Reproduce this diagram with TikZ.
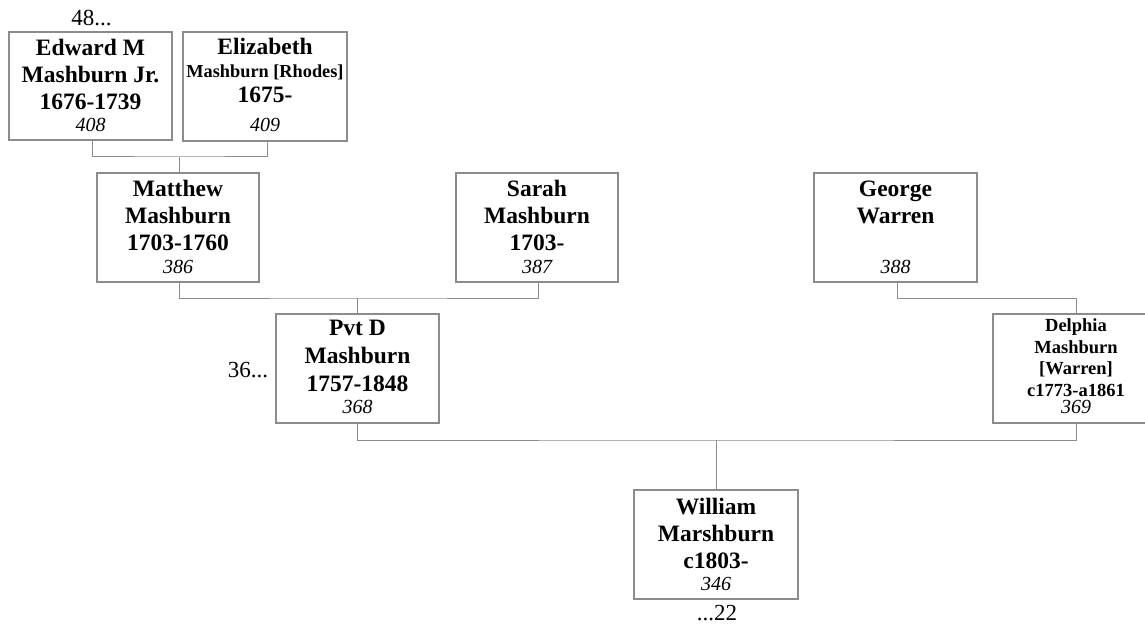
\documentclass[tikz,border=0pt]{standalone}
\usepackage{fontspec}
\setmainfont{Liberation Serif}
\definecolor{linegray}{RGB}{140,140,140}
\begin{document}
\begin{tikzpicture}[x=1pt,y=-1pt,
  person/.style={draw=linegray, line width=1.3pt, fill=white, inner sep=0pt, minimum width=163pt, minimum height=108pt},
  pname/.style={font=\bfseries\fontsize{23.5}{27}\selectfont, align=center, inner sep=0pt, anchor=north},
  sname/.style={font=\bfseries\fontsize{18.5}{21.5}\selectfont, align=center, inner sep=0pt, anchor=north},
  pnum/.style={font=\itshape\fontsize{20}{24}\selectfont, inner sep=0pt, anchor=base},
  more/.style={font=\fontsize{23}{27}\selectfont, inner sep=0pt},
  link/.style={draw=linegray, line width=1pt}
]
\useasboundingbox (0,0) rectangle (1145,628);

% connectors
\coordinate (j1) at (179,157);
\coordinate (j2) at (357.5,298);
\coordinate (j3) at (1076,298);
\coordinate (j4) at (716,440);

% boxes
\node[person] (edw) at (90.5,86) {};
\node[person, minimum width=164pt, minimum height=109pt] (eliz) at (265,86.5) {};
\node[person, minimum width=162pt, minimum height=109pt] (mat) at (178,227.5) {};
\node[person, minimum width=162pt, minimum height=109pt] (sar) at (537,227.5) {};
\node[person, minimum height=109pt] (geo) at (895.5,227.5) {};
\node[person, minimum height=109pt] (pvt) at (357.5,368.5) {};
\node[person, minimum width=166pt, minimum height=109pt] (del) at (1076,368.5) {};
\node[person, minimum width=164pt, minimum height=109pt] (wil) at (716,544.5) {};

\draw[link] ([xshift=1.5pt]edw.south) |- (j1) -| ([xshift=2pt]eliz.south);
\draw[link] (j1) -- ([xshift=1pt]mat.north);
\draw[link] ([xshift=1pt]mat.south) |- (j2) -| ([xshift=1pt]sar.south);
\draw[link] (j2) -- (pvt.north);
\draw[link] ([xshift=1.5pt]geo.south) |- (j3) -- (del.north);
\draw[link] (pvt.south) |- (j4) -| (del.south);
\draw[link] (j4) -- (wil.north);

% names
\node[pname] (tedw) at ([yshift=-5pt]edw.north) {\strut Edward M\\Mashburn Jr.\\1676-1739};
\node[pname] (teliz) at ([yshift=-4pt]eliz.north) {\strut Elizabeth\\[-4pt]{\fontsize{18.3}{22}\selectfont Mashburn [Rhodes]}\\[-2pt]1675-};
\node[pname] (tmat) at ([yshift=-5pt]mat.north) {\strut Matthew\\Mashburn\\1703-1760};
\node[pname] (tsar) at ([yshift=-5pt]sar.north) {\strut Sarah\\Mashburn\\1703-};
\node[pname] (tgeo) at ([yshift=-5pt]geo.north) {\strut George\\Warren};
\node[pname] (tpvt) at ([yshift=-3pt]pvt.north) {\strut Pvt D\\[1pt]Mashburn\\[1pt]1757-1848};
\node[sname] (tdel) at ([yshift=-3pt]del.north) {\strut Delphia\\Mashburn\\{[Warren]}\\c1773-a1861};
\node[pname] (twil) at ([yshift=-6pt]wil.north) {\strut William\\Marshburn\\c1803-};

% numbers
\node[pnum] (nedw) at ([yshift=9pt]edw.south) {408};
\node[pnum] (neliz) at ([yshift=10pt]eliz.south) {409};
\node[pnum] (nmat) at ([yshift=9pt]mat.south) {386};
\node[pnum] (nsar) at ([yshift=9pt]sar.south) {387};
\node[pnum] (ngeo) at ([yshift=9pt]geo.south) {388};
\node[pnum] (npvt) at ([yshift=10pt]pvt.south) {368};
\node[pnum] (ndel) at ([yshift=10pt]del.south) {369};
\node[pnum] (nwil) at ([yshift=9pt]wil.south) {346};

% continuation labels
\node[more, anchor=base] (m48) at ([xshift=1pt,yshift=6pt]edw.north) {48...};
\node[more, anchor=base east] (m36) at ([xshift=-7pt,yshift=-8.5pt]pvt.west) {36...};
\node[more, anchor=base] (m22) at ([xshift=1pt,yshift=-21pt]wil.south) {...22};
\end{tikzpicture}
\end{document}
